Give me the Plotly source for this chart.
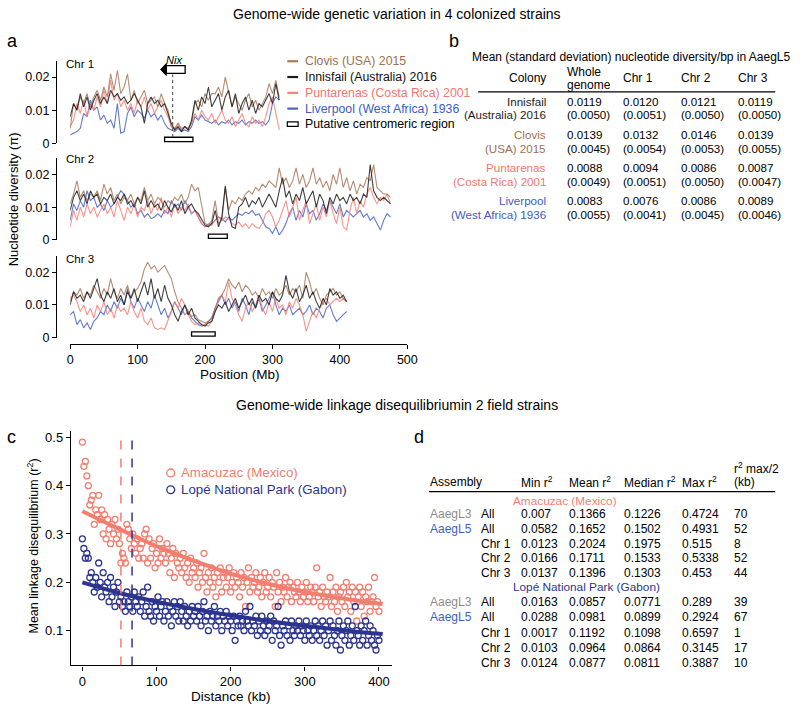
import plotly.graph_objects as go

W, H = 800, 709
def px(x): return x / W
def py(y): return 1 - y / H

FONT = "Liberation Sans, Arial, Helvetica, sans-serif"

# ---------------- Panel a data (nucleotide diversity, 5 Mb windows) ----------------
chr1_pos = list(range(0, 311, 5))
chr2_pos = list(range(0, 476, 5))
chr3_pos = list(range(0, 411, 5))

chr1_clovis = [0.0045,0.012,0.010,0.014,0.012,0.015,0.011,0.014,0.016,0.013,0.017,0.014,0.021,0.016,0.022,0.015,0.017,0.021,0.013,0.016,
               0.012,0.014,0.016,0.012,0.013,0.014,0.011,0.015,0.012,0.010,0.005,0.0045,0.006,0.004,0.005,0.0045,0.006,0.012,0.013,0.011,
               0.015,0.013,0.015,0.015,0.017,0.014,0.020,0.015,0.011,0.014,0.012,0.010,0.013,0.015,0.011,0.013,0.010,0.012,0.014,0.018,
               0.015,0.019,0.014]
chr1_innisfail = [0.008,0.012,0.010,0.015,0.011,0.014,0.010,0.013,0.015,0.012,0.014,0.012,0.016,0.014,0.015,0.013,0.014,0.012,0.013,0.015,
                  0.013,0.011,0.006,0.012,0.014,0.012,0.013,0.011,0.012,0.009,0.006,0.004,0.005,0.0035,0.005,0.004,0.007,0.013,0.010,0.014,
                  0.012,0.017,0.011,0.013,0.015,0.010,0.014,0.016,0.011,0.015,0.009,0.012,0.014,0.010,0.013,0.009,0.012,0.011,0.013,0.015,
                  0.012,0.018,0.013]
chr1_puntarenas = [0.005,0.007,0.012,0.009,0.013,0.008,0.012,0.010,0.014,0.011,0.016,0.012,0.019,0.013,0.015,0.011,0.013,0.010,0.012,0.009,
                   0.013,0.011,0.014,0.010,0.012,0.009,0.011,0.013,0.010,0.008,0.005,0.004,0.006,0.0045,0.005,0.004,0.006,0.009,0.007,0.010,
                   0.008,0.007,0.009,0.006,0.008,0.010,0.007,0.006,0.008,0.005,0.007,0.009,0.006,0.005,0.008,0.006,0.007,0.005,0.008,0.012,
                   0.014,0.009,0.004]
chr1_liverpool = [0.0025,0.003,0.0035,0.0045,0.009,0.008,0.013,0.010,0.011,0.007,0.0085,0.006,0.007,0.0045,0.012,0.003,0.0035,0.009,0.011,0.008,
                  0.010,0.009,0.0075,0.010,0.008,0.009,0.007,0.0085,0.006,0.0045,0.004,0.0035,0.0045,0.0035,0.004,0.0035,0.005,0.008,0.007,0.0085,
                  0.007,0.0065,0.006,0.007,0.0055,0.0065,0.006,0.007,0.0055,0.0065,0.006,0.007,0.0055,0.0065,0.006,0.007,0.006,0.0065,0.0055,0.007,
                  0.012,0.014,0.013]

chr2_clovis = [0.011,0.014,0.018,0.013,0.015,0.012,0.014,0.013,0.015,0.012,
               0.017,0.014,0.016,0.012,0.014,0.011,0.013,0.012,0.014,0.011,
               0.013,0.012,0.016,0.012,0.014,0.011,0.013,0.012,0.010,0.012,
               0.011,0.013,0.012,0.014,0.011,0.013,0.017,0.015,0.016,0.010,
               0.005,0.0045,0.006,0.012,0.005,0.006,0.016,0.009,0.012,0.011,
               0.013,0.012,0.014,0.015,0.014,0.016,0.015,0.017,0.016,0.018,
               0.017,0.016,0.022,0.017,0.019,0.016,0.018,0.022,0.017,0.020,
               0.016,0.018,0.022,0.017,0.019,0.016,0.018,0.015,0.020,0.017,
               0.022,0.016,0.019,0.015,0.018,0.014,0.017,0.016,0.019,0.018,
               0.023,0.016,0.015,0.014,0.014,0.013]
chr2_innisfail = [0.009,0.013,0.015,0.012,0.014,0.011,0.015,0.013,0.014,0.011,
                  0.013,0.012,0.014,0.011,0.013,0.012,0.014,0.011,0.012,0.010,
                  0.013,0.011,0.015,0.010,0.012,0.010,0.011,0.009,0.012,0.010,
                  0.0085,0.011,0.009,0.012,0.008,0.010,0.011,0.009,0.008,0.006,
                  0.0045,0.004,0.005,0.009,0.004,0.007,0.0165,0.008,0.004,0.0035,
                  0.010,0.011,0.013,0.010,0.012,0.011,0.013,0.010,0.012,0.014,
                  0.012,0.010,0.015,0.019,0.013,0.015,0.011,0.014,0.012,0.016,
                  0.011,0.013,0.015,0.010,0.014,0.012,0.008,0.013,0.011,0.014,
                  0.012,0.013,0.011,0.014,0.012,0.013,0.011,0.014,0.013,0.023,
                  0.015,0.013,0.012,0.013,0.012,0.011]
chr2_puntarenas = [0.004,0.009,0.006,0.010,0.007,0.011,0.008,0.010,0.007,0.009,
                   0.011,0.008,0.010,0.007,0.012,0.009,0.006,0.010,0.008,0.011,
                   0.007,0.010,0.009,0.012,0.008,0.011,0.009,0.013,0.008,0.010,
                   0.007,0.011,0.008,0.010,0.009,0.011,0.008,0.009,0.007,0.005,
                   0.004,0.005,0.0045,0.006,0.007,0.006,0.007,0.0065,0.005,0.0045,
                   0.0055,0.004,0.005,0.0035,0.005,0.004,0.0035,0.005,0.008,0.009,
                   0.007,0.004,0.006,0.009,0.012,0.007,0.010,0.013,0.006,0.009,
                   0.012,0.005,0.008,0.011,0.006,0.010,0.007,0.012,0.008,0.005,
                   0.010,0.004,0.003,0.009,0.013,0.008,0.012,0.010,0.014,0.016,
                   0.013,0.011,0.013,0.012,0.014,0.011]
chr2_liverpool = [0.006,0.011,0.009,0.012,0.010,0.015,0.012,0.013,0.010,0.011,
                  0.009,0.012,0.010,0.011,0.013,0.015,0.014,0.012,0.010,0.011,
                  0.008,0.009,0.007,0.008,0.0065,0.007,0.008,0.007,0.009,0.008,
                  0.012,0.010,0.011,0.009,0.012,0.010,0.008,0.009,0.007,0.005,
                  0.004,0.0045,0.005,0.006,0.007,0.0065,0.0055,0.007,0.006,0.007,
                  0.008,0.0075,0.0085,0.008,0.009,0.0075,0.008,0.006,0.004,0.0035,
                  0.002,0.004,0.0015,0.003,0.005,0.008,0.010,0.006,0.009,0.007,
                  0.011,0.008,0.009,0.006,0.008,0.011,0.009,0.012,0.010,0.008,
                  0.011,0.007,0.009,0.008,0.007,0.008,0.009,0.007,0.008,0.006,
                  0.007,0.005,0.003,0.006,0.008,0.007]

chr3_clovis = [0.011,0.014,0.013,0.015,0.012,0.014,0.013,0.016,0.014,0.012,
               0.015,0.013,0.018,0.014,0.012,0.015,0.013,0.016,0.012,0.014,
               0.015,0.017,0.021,0.023,0.021,0.022,0.020,0.021,0.022,0.020,
               0.018,0.014,0.011,0.009,0.007,0.008,0.0065,0.007,0.0055,0.005,
               0.0045,0.005,0.006,0.009,0.012,0.013,0.015,0.018,0.016,0.015,
               0.017,0.014,0.016,0.015,0.013,0.014,0.012,0.015,0.013,0.014,
               0.012,0.015,0.013,0.014,0.016,0.013,0.015,0.014,0.016,0.012,
               0.020,0.017,0.013,0.015,0.012,0.010,0.013,0.014,0.015,0.013,
               0.014,0.012,0.011]
chr3_innisfail = [0.010,0.014,0.012,0.013,0.011,0.014,0.012,0.015,0.018,0.013,
                  0.011,0.014,0.012,0.015,0.011,0.013,0.010,0.014,0.012,0.015,
                  0.011,0.014,0.017,0.013,0.018,0.012,0.015,0.011,0.016,0.012,
                  0.010,0.007,0.005,0.008,0.010,0.007,0.009,0.006,0.005,0.004,
                  0.0035,0.0045,0.005,0.008,0.010,0.009,0.011,0.008,0.010,0.012,
                  0.009,0.011,0.013,0.010,0.012,0.009,0.013,0.011,0.012,0.010,
                  0.014,0.012,0.011,0.013,0.019,0.014,0.012,0.015,0.011,0.013,
                  0.016,0.012,0.014,0.011,0.009,0.012,0.010,0.015,0.013,0.014,
                  0.012,0.013,0.011]
chr3_puntarenas = [0.012,0.013,0.011,0.008,0.010,0.007,0.009,0.006,0.010,0.008,
                   0.011,0.007,0.009,0.006,0.010,0.008,0.009,0.007,0.011,0.008,
                   0.006,0.009,0.005,0.004,0.006,0.003,0.0025,0.003,0.0025,0.005,
                   0.008,0.011,0.009,0.012,0.010,0.007,0.005,0.004,0.0045,0.0035,
                   0.004,0.0035,0.005,0.008,0.012,0.013,0.011,0.017,0.012,0.010,
                   0.007,0.005,0.009,0.011,0.008,0.010,0.013,0.009,0.007,0.011,
                   0.008,0.012,0.009,0.010,0.007,0.011,0.009,0.012,0.010,0.007,
                   0.002,0.005,0.008,0.006,0.009,0.011,0.012,0.010,0.011,0.012,
                   0.011,0.012,0.011]
chr3_liverpool = [0.007,0.008,0.004,0.0055,0.003,0.0045,0.0025,0.005,0.006,0.008,
                  0.007,0.010,0.008,0.011,0.009,0.012,0.010,0.015,0.011,0.009,
                  0.012,0.010,0.008,0.011,0.009,0.013,0.010,0.007,0.009,0.006,
                  0.008,0.011,0.009,0.007,0.010,0.008,0.006,0.005,0.004,0.0035,
                  0.004,0.005,0.006,0.009,0.011,0.013,0.010,0.012,0.009,0.011,
                  0.008,0.012,0.010,0.007,0.011,0.009,0.012,0.008,0.010,0.012,
                  0.014,0.010,0.007,0.009,0.008,0.010,0.007,0.008,0.009,0.007,
                  0.008,0.010,0.007,0.009,0.008,0.006,0.009,0.010,0.007,0.005,
                  0.006,0.007,0.008]

strain_names = ["Clovis (USA) 2015", "Innisfail (Australia) 2016",
                "Puntarenas (Costa Rica) 2001", "Liverpool (West Africa) 1936"]
centromere_start = [140, 205, 180]   # Mb
centromere_end = [182, 233, 215]     # Mb
nix_mb = 152
pos_ticks = [0, 100, 200, 300, 400, 500]

# ---------------- Panel b data ----------------
b_col_headers = ["Whole<br>genome", "Chr 1", "Chr 2", "Chr 3"]
b_name1 = ["Innisfail", "Clovis", "Puntarenas", "Liverpool"]
b_name2 = ["(Australia) 2016", "(USA) 2015", "(Costa Rica) 2001", "(West Africa) 1936"]
b_mean = [[0.0119, 0.0120, 0.0121, 0.0119],
          [0.0139, 0.0132, 0.0146, 0.0139],
          [0.0088, 0.0094, 0.0086, 0.0087],
          [0.0083, 0.0076, 0.0086, 0.0089]]
b_sd = [[0.0050, 0.0051, 0.0050, 0.0050],
        [0.0045, 0.0054, 0.0053, 0.0055],
        [0.0049, 0.0051, 0.0050, 0.0047],
        [0.0055, 0.0041, 0.0045, 0.0046]]

# ---------------- Panel c data (LD decay, 2 kb bins) ----------------
ld_kb = list(range(0, 401, 2))
amacuzac_r2 = [0.49,0.44,0.45,0.42,0.40,0.36,
    0.37,0.38,0.32,0.35,0.34,0.38,0.33,0.35,0.30,0.34,
    0.29,0.33,0.31,0.28,0.32,0.30,0.33,0.29,0.31,0.28,
    0.24,0.26,0.25,0.24,0.32,0.31,0.29,0.27,0.30,0.28,
    0.26,0.29,0.25,0.27,0.28,0.25,0.30,0.31,0.24,0.29,
    0.25,0.27,0.28,0.23,0.26,0.24,0.29,0.25,0.27,0.26,
    0.24,0.28,0.26,0.22,0.25,0.27,0.21,0.26,0.24,0.23,
    0.25,0.22,0.26,0.23,0.21,0.24,0.20,0.25,0.22,0.23,
    0.21,0.24,0.19,0.22,0.23,0.20,0.26,0.21,0.18,0.22,
    0.20,0.23,0.19,0.21,0.17,0.22,0.20,0.23,0.18,0.21,
    0.22,0.19,0.21,0.23,0.18,0.20,0.22,0.19,0.21,0.20,
    0.17,0.22,0.19,0.21,0.15,0.20,0.23,0.18,0.21,0.19,
    0.20,0.22,0.18,0.19,0.21,0.17,0.20,0.22,0.18,0.19,
    0.21,0.17,0.20,0.19,0.15,0.22,0.18,0.20,0.16,0.19,
    0.18,0.21,0.17,0.19,0.20,0.16,0.19,0.18,0.17,0.20,
    0.18,0.16,0.19,0.17,0.18,0.20,0.16,0.17,0.19,0.18,
    0.16,0.19,0.23,0.17,0.18,0.15,0.19,0.17,0.16,0.18,
    0.17,0.21,0.15,0.18,0.16,0.19,0.14,0.17,0.18,0.16,
    0.19,0.15,0.20,0.17,0.18,0.14,0.19,0.16,0.18,0.12,
    0.17,0.19,0.15,0.18,0.13,0.17,0.16,0.19,0.14,0.16,
    0.17,0.21,0.15,0.16,0.14]
lope_r2 = [0.29,0.27,0.25,0.26,0.25,0.21,
    0.22,0.20,0.18,0.21,0.19,0.24,0.20,0.17,0.22,0.19,
    0.18,0.20,0.16,0.21,0.17,0.19,0.15,0.18,0.20,0.16,
    0.17,0.15,0.16,0.14,0.18,0.16,0.15,0.17,0.14,0.18,
    0.16,0.15,0.17,0.14,0.16,0.18,0.13,0.15,0.19,0.14,
    0.13,0.16,0.12,0.15,0.14,0.17,0.13,0.15,0.16,0.12,
    0.14,0.16,0.13,0.15,0.11,0.14,0.16,0.13,0.15,0.12,
    0.16,0.14,0.12,0.15,0.13,0.11,0.14,0.12,0.15,0.13,
    0.14,0.12,0.15,0.13,0.11,0.14,0.16,0.12,0.13,0.10,
    0.14,0.12,0.13,0.15,0.11,0.13,0.12,0.14,0.10,0.13,
    0.12,0.14,0.11,0.13,0.12,0.10,0.13,0.08,0.12,0.11,
    0.13,0.11,0.12,0.10,0.14,0.12,0.11,0.15,0.10,0.12,
    0.11,0.13,0.09,0.12,0.10,0.13,0.11,0.09,0.12,0.10,
    0.11,0.13,0.08,0.12,0.10,0.11,0.15,0.09,0.07,0.11,
    0.10,0.12,0.09,0.11,0.08,0.12,0.10,0.09,0.11,0.10,
    0.12,0.09,0.11,0.10,0.08,0.12,0.10,0.09,0.11,0.08,
    0.10,0.12,0.09,0.11,0.08,0.10,0.12,0.09,0.11,0.07,
    0.10,0.12,0.08,0.11,0.09,0.07,0.10,0.12,0.06,0.09,
    0.11,0.08,0.10,0.12,0.07,0.09,0.11,0.08,0.15,0.10,
    0.09,0.07,0.11,0.08,0.10,0.12,0.07,0.09,0.11,0.08,
    0.10,0.07,0.06,0.09,0.08]
fit_kb = [0, 50, 100, 150, 200, 250, 300, 350, 405]
amacuzac_fit = [0.347, 0.310, 0.275, 0.245, 0.218, 0.197, 0.180, 0.167, 0.155]
lope_fit = [0.200, 0.178, 0.160, 0.145, 0.132, 0.120, 0.110, 0.101, 0.093]
ld_names = ["Amacuzac (Mexico)", "Lopé National Park (Gabon)"]

# ---------------- Panel d data ----------------
d_headers = ["Min r<sup>2</sup>", "Mean r<sup>2</sup>", "Median r<sup>2</sup>", "Max r<sup>2</sup>"]
d_assembly = ["AaegL3", "AaegL5", "", "", ""]
d_region = ["All", "All", "Chr 1", "Chr 2", "Chr 3"]
d_amacuzac = [["0.007", "0.1366", "0.1226", "0.4724", "70"],
              ["0.0582", "0.1652", "0.1502", "0.4931", "52"],
              ["0.0123", "0.2024", "0.1975", "0.515", "8"],
              ["0.0166", "0.1711", "0.1533", "0.5338", "52"],
              ["0.0137", "0.1396", "0.1303", "0.453", "44"]]
d_lope = [["0.0163", "0.0857", "0.0771", "0.289", "39"],
          ["0.0288", "0.0981", "0.0899", "0.2924", "67"],
          ["0.0017", "0.1192", "0.1098", "0.6597", "1"],
          ["0.0103", "0.0964", "0.0864", "0.3145", "17"],
          ["0.0124", "0.0877", "0.0811", "0.3887", "10"]]

# ---------------- Colours ----------------
C_CLOVIS = "#a9795a"
C_INNIS = "#1e1e1e"
C_PUNT = "#f6827a"
C_LIVER = "#4a66c6"
C_AMAC = "#f27e70"
C_LOPE = "#2c3490"
C_L3 = "#8c8c8c"
C_L5 = "#3f5fbf"

fig = go.Figure()

# ---- panel a traces ----
chrom = [
    (chr1_pos, chr1_clovis, chr1_innisfail, chr1_puntarenas, chr1_liverpool, "y"),
    (chr2_pos, chr2_clovis, chr2_innisfail, chr2_puntarenas, chr2_liverpool, "y2"),
    (chr3_pos, chr3_clovis, chr3_innisfail, chr3_puntarenas, chr3_liverpool, "y3"),
]
for pos, clo, inn, pun, liv, yax in chrom:
    for vals, col, name in [(liv, C_LIVER, strain_names[3]), (pun, C_PUNT, strain_names[2]),
                            (clo, C_CLOVIS, strain_names[0]), (inn, C_INNIS, strain_names[1])]:
        fig.add_trace(go.Scatter(x=pos, y=vals, xaxis="x", yaxis=yax, mode="lines",
                                 line=dict(color=col, width=1.1), opacity=0.85,
                                 name=name, showlegend=False, hoverinfo="skip"))

# ---- panel c traces ----
fig.add_trace(go.Scatter(x=ld_kb, y=amacuzac_r2, xaxis="x2", yaxis="y4", mode="markers",
                         marker=dict(symbol="circle-open", size=6, color=C_AMAC, line=dict(width=1.3)),
                         name=ld_names[0], showlegend=False, hoverinfo="skip"))
fig.add_trace(go.Scatter(x=ld_kb, y=lope_r2, xaxis="x2", yaxis="y4", mode="markers",
                         marker=dict(symbol="circle-open", size=6, color=C_LOPE, line=dict(width=1.3)),
                         name=ld_names[1], showlegend=False, hoverinfo="skip"))
fig.add_trace(go.Scatter(x=fit_kb, y=amacuzac_fit, xaxis="x2", yaxis="y4", mode="lines",
                         line=dict(color=C_AMAC, width=4, shape="spline"), showlegend=False, hoverinfo="skip"))
fig.add_trace(go.Scatter(x=fit_kb, y=lope_fit, xaxis="x2", yaxis="y4", mode="lines",
                         line=dict(color=C_LOPE, width=4, shape="spline"), showlegend=False, hoverinfo="skip"))

axis_common = dict(showline=True, linecolor="black", linewidth=1.3, ticks="outside", ticklen=4,
                   tickwidth=1.3, tickcolor="black", showgrid=False, zeroline=False,
                   tickfont=dict(family=FONT, size=12.5, color="black"))

ytick_a = dict(tickvals=[0, 0.01, 0.02], ticktext=["0", "0.01", "0.02"])

fig.update_layout(
    width=W, height=H, margin=dict(l=0, r=0, t=0, b=0),
    paper_bgcolor="white", plot_bgcolor="white", showlegend=False,
    font=dict(family=FONT, size=12, color="black"),
    xaxis=dict(domain=[px(68.3), px(411)], range=[0, 500], anchor="free", position=py(346),
               tickvals=pos_ticks, **axis_common),
    yaxis=dict(domain=[py(143), py(60)], range=[0, 0.0248], anchor="free", position=px(54),
               **ytick_a, **axis_common),
    yaxis2=dict(domain=[py(241), py(158)], range=[0, 0.0250], anchor="free", position=px(54),
                **ytick_a, **axis_common),
    yaxis3=dict(domain=[py(340), py(257)], range=[0, 0.0250], anchor="free", position=px(54),
                **ytick_a, **axis_common),
    xaxis2=dict(domain=[px(69), px(395)], range=[-15.5, 417], anchor="y4",
                tickvals=[0, 100, 200, 300, 400], **axis_common),
    yaxis4=dict(domain=[py(672), py(435)], range=[0.028, 0.512], anchor="x2",
                tickvals=[0.1, 0.2, 0.3, 0.4, 0.5], **axis_common),
)
fig.layout.xaxis2.tickfont.size = 13
fig.layout.yaxis4.tickfont.size = 13

shapes = []
annotations = []

def ann(x, y, text, size=12, color="black", xanchor="left", yanchor="middle", **kw):
    annotations.append(dict(x=px(x), y=py(y), xref="paper", yref="paper", text=text,
                            showarrow=False, font=dict(family=FONT, size=size, color=color),
                            xanchor=xanchor, yanchor=yanchor, borderpad=0, **kw))

# ---- panel a shapes ----
for i, yref in enumerate(["y", "y2", "y3"]):
    shapes.append(dict(type="rect", xref="x", yref=yref, x0=centromere_start[i], x1=centromere_end[i],
                       y0=0.0005, y1=0.0018, line=dict(color="black", width=1.3), fillcolor="white"))
shapes.append(dict(type="line", xref="x", yref="y", x0=nix_mb, x1=nix_mb, y0=0.0019, y1=0.0208,
                   line=dict(color="#555555", width=1.1, dash="dot")))
shapes.append(dict(type="rect", xref="x", yref="y", x0=nix_mb - 9.5, x1=nix_mb + 18.5,
                   y0=0.0211, y1=0.0235, line=dict(color="black", width=1.3), fillcolor="white"))
shapes.append(dict(type="path", xref="x", yref="y",
                   path=f"M {nix_mb - 9.5},0.0205 L {nix_mb - 9.5},0.0241 L {nix_mb - 18},0.0223 Z",
                   fillcolor="black", line=dict(color="black", width=1)))
ann(174, 59, "<i>Nix</i>", size=11, xanchor="center")

# chromosome labels
for lab, yy in [("Chr 1", 63), ("Chr 2", 159), ("Chr 3", 260)]:
    ann(63, yy, lab, size=11.5)

# panel a legend
leg_colors = [C_CLOVIS, C_INNIS, C_PUNT, C_LIVER]
leg_text_colors = ["#a0704f", "#111111", "#f2766d", "#3d5bbf"]
leg_y = [60, 76, 92, 108]
for name, lc, tc, yy in zip(strain_names, leg_colors, leg_text_colors, leg_y):
    shapes.append(dict(type="line", xref="paper", yref="paper", x0=px(289), x1=px(300),
                       y0=py(yy), y1=py(yy), line=dict(color=lc, width=2.2)))
    ann(306, yy, name, size=12.3, color=tc)
shapes.append(dict(type="rect", xref="paper", yref="paper", x0=px(289), x1=px(300),
                   y0=py(126), y1=py(121.5), line=dict(color="black", width=1.2), fillcolor="white"))
ann(306, 124, "Putative centromeric region", size=12.3)

# axis titles panel a
ann(11, 200, "Nucleotide diversity (π)", size=13, xanchor="center", textangle=-90)
ann(241, 377, "Position (Mb)", size=13.5, xanchor="center")

# titles and panel letters
ann(400, 12, "Genome-wide genetic variation in 4 colonized strains", size=14, xanchor="center")
ann(400, 408, "Genome-wide linkage disequilibriumin 2 field strains", size=14, xanchor="center")
ann(3, 40, "a", size=18)
ann(452, 40, "b", size=18)
ann(3, 441, "c", size=18)
ann(417, 441, "d", size=18)

# ---- panel b table ----
BF = 11.6
ann(639, 56, "Mean (standard deviation) nucleotide diversity/bp in AaegL5", size=12, xanchor="center")
ann(553, 77, "Colony", size=12, xanchor="right")
ann(572, 70.5, "Whole", size=12)
ann(572, 84, "genome", size=12)
b_col_x = [572, 629, 688, 746]
for hx, h in zip(b_col_x[1:], b_col_headers[1:]):
    ann(hx, 77, h, size=12)
shapes.append(dict(type="line", xref="paper", yref="paper", x0=px(483), x1=px(785),
                   y0=py(91), y1=py(91), line=dict(color="black", width=1.3)))
b_name_colors = [C_INNIS, "#a0704f", "#f2766d", "#3d5bbf"]
b_y1 = [100.5, 134, 167.5, 201.5]
b_y2 = [113.5, 148, 181.5, 215]
for i in range(4):
    ann(553, b_y1[i], b_name1[i], size=BF, color=b_name_colors[i], xanchor="right")
    ann(553, b_y2[i], b_name2[i], size=BF, color=b_name_colors[i], xanchor="right")
    for j in range(4):
        ann(b_col_x[j], b_y1[i], f"{b_mean[i][j]:.4f}", size=BF)
        ann(b_col_x[j], b_y2[i], f"({b_sd[i][j]:.4f})", size=BF)

# ---- panel c extras ----
half_decay = [float(d_amacuzac[1][4]), float(d_lope[1][4])]
for hd, col in zip(half_decay, [C_AMAC, C_LOPE]):
    shapes.append(dict(type="line", xref="x2", yref="y4", x0=hd, x1=hd, y0=0.028, y1=0.5,
                       line=dict(color=col, width=1.5, dash="dash")))
for name, col, yy in zip(ld_names, [C_AMAC, C_LOPE], [477, 494]):
    shapes.append(dict(type="circle", xref="paper", yref="paper", x0=px(166.5), x1=px(174.5),
                       y0=py(yy + 4), y1=py(yy - 4), line=dict(color=col, width=1.3)))
    ann(180, yy, name, size=13.3, color=col)
ann(30, 551, "Mean linkage disequilibrium (r<sup>2</sup>)", size=12.5, xanchor="center", textangle=-90)
ann(232, 703, "Distance (kb)", size=13.5, xanchor="center")

# ---- panel d table ----
ann(433, 486, "Assembly", size=12)
d_col_x = [526, 574, 630, 689, 742]
for hx, h in zip(d_col_x[:4], d_headers):
    ann(hx, 486, h, size=12)
ann(742, 472, "r<sup>2</sup> max/2", size=12)
ann(742, 486, "(kb)", size=12)
shapes.append(dict(type="line", xref="paper", yref="paper", x0=px(433), x1=px(785),
                   y0=py(496), y1=py(496), line=dict(color="black", width=1.3)))

def d_block(title, title_color, title_y, title_x, rows, row_y):
    ann(title_x, title_y, title, size=11.8, color=title_color, xanchor="center")
    for r in range(5):
        if d_assembly[r]:
            ann(433, row_y[r], d_assembly[r], size=12, color=C_L3 if d_assembly[r] == "AaegL3" else C_L5)
        ann(485, row_y[r], d_region[r], size=12)
        for c in range(5):
            ann(d_col_x[c], row_y[r], rows[r][c], size=12)

d_block(ld_names[0], C_AMAC, 505, 571, d_amacuzac, [518.5, 533.5, 548.5, 563.5, 578.5])
d_block(ld_names[1], C_LOPE, 593, 593, d_lope, [608, 623, 639, 654, 669])

fig.update_layout(shapes=shapes, annotations=annotations)
fig.write_html("out.html", config={"displayModeBar": False},
               post_script="document.body.style.margin='0px';document.body.style.overflow='hidden';")
